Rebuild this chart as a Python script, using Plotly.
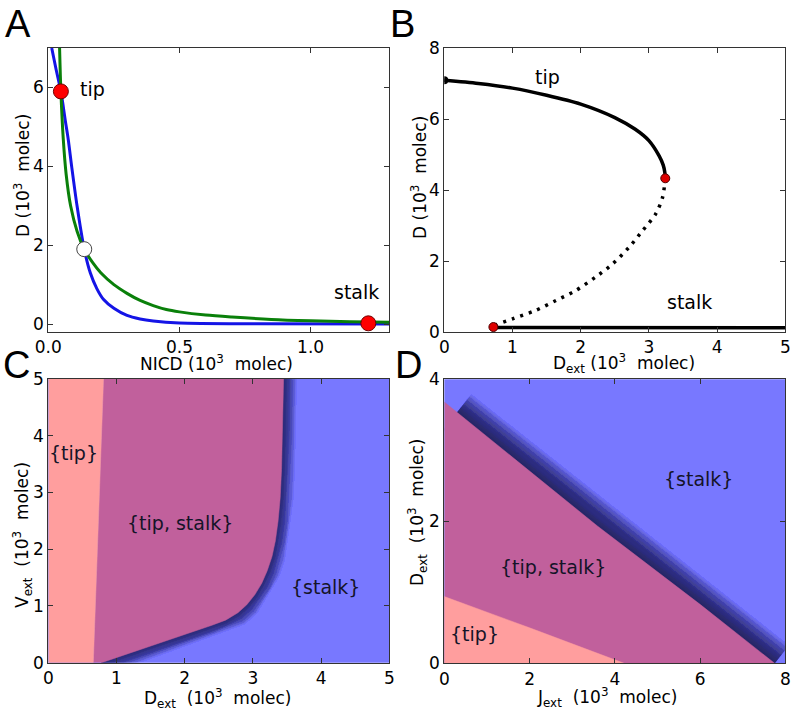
import plotly.graph_objects as go

W, H = 796, 711
FONT = "DejaVu Sans"

# ---------------- Panel A: nullclines ----------------
a_green_nicd = [0.043, 0.048, 0.057, 0.068, 0.085, 0.11, 0.137, 0.17, 0.20, 0.25, 0.30, 0.35, 0.40, 0.45, 0.50, 0.60, 0.70, 0.85, 1.00, 1.15, 1.30]
a_green_d    = [7.0,   5.9,   4.7,   3.8,   3.0,   2.35, 1.9,   1.55, 1.3,  1.0,  0.78, 0.6,  0.47, 0.37, 0.31, 0.23, 0.18, 0.12, 0.085, 0.06, 0.045]
a_blue_nicd  = [0.013, 0.03, 0.048, 0.065, 0.076, 0.089, 0.11, 0.137, 0.16, 0.185, 0.21, 0.25, 0.30, 0.35, 0.40, 0.50, 0.80, 1.30]
a_blue_d     = [7.0,   6.45, 5.9,   5.15,  4.68,  4.0,   2.98, 1.9,   1.3,  0.9,   0.63, 0.4,  0.22, 0.13, 0.08, 0.03, 0.01, 0.005]
a_stable_nicd = [0.048, 1.22]
a_stable_d    = [5.9, 0.02]
a_saddle_nicd = [0.137]
a_saddle_d    = [1.9]
a_xrange = [0, 1.3]
a_yrange = [-0.2, 7.0]
a_xticks = [0.0, 0.5, 1.0]
a_xticklabels = ["0.0", "0.5", "1.0"]
a_yticks = [0, 2, 4, 6]

# ---------------- Panel B: bifurcation diagram ----------------
b_tip_dext = [0.0, 0.5, 1.0, 1.5, 2.0, 2.5, 2.8, 3.0, 3.15, 3.21, 3.233, 3.24]
b_tip_d    = [7.09, 7.0, 6.87, 6.67, 6.42, 6.04, 5.71, 5.39, 4.96, 4.70, 4.50, 4.33]
b_unst_dext = [3.24, 3.2, 3.1, 2.91, 2.71, 2.47, 2.22, 1.93, 1.64, 1.34, 1.0, 0.76, 0.72]
b_unst_d    = [4.33, 3.79, 3.33, 2.86, 2.39, 1.92, 1.55, 1.17, 0.89, 0.61, 0.37, 0.2, 0.14]
b_stalk_dext = [0.72, 2.0, 5.0]
b_stalk_d    = [0.13, 0.12, 0.12]
b_fold_dext = [3.24, 0.72]
b_fold_d    = [4.33, 0.14]
b_start_dext = [0.0]
b_start_d    = [7.09]
b_xrange = [0, 5]
b_yrange = [0, 8]
b_xticks = [0, 1, 2, 3, 4, 5]
b_yticks = [0, 2, 4, 6, 8]

# ---------------- Panel C: phase diagram Dext vs Vext ----------------
c_tipb_dext = [0.66, 0.81]
c_tipb_vext = [0.0, 5.0]
c_stalkb_dext = [0.78, 1.0, 1.5, 2.0, 2.4, 2.6, 2.78, 2.91, 3.03, 3.13, 3.21, 3.28, 3.33, 3.37, 3.40, 3.42, 3.435, 3.45]
c_stalkb_vext = [0.0, 0.1, 0.3, 0.5, 0.66, 0.75, 0.88, 1.02, 1.2, 1.4, 1.62, 1.87, 2.15, 2.5, 2.9, 3.4, 4.0, 5.0]
c_xrange = [0, 5]
c_yrange = [0, 5]
c_ticks = [0, 1, 2, 3, 4, 5]
c_labels = ["{tip}", "{tip, stalk}", "{stalk}"]
c_label_x = [0.37, 1.93, 4.07]
c_label_y = [3.7, 2.46, 1.33]

# ---------------- Panel D: phase diagram Jext vs Dext ----------------
d_tipb_jext = [0.0, 2.0, 4.22]
d_tipb_dext = [0.94, 0.5, 0.0]
d_stalkb_jext = [0.0, 1.5, 3.6, 6.0, 7.75]
d_stalkb_dext = [3.68, 2.95, 1.93, 0.83, 0.0]
d_shadow_from_jext = 0.3   # the dark edge starts a little right of the axis
d_xrange = [0, 8]
d_yrange = [0, 4]
d_xticks = [0, 2, 4, 6, 8]
d_yticks = [0, 2, 4]
d_labels = ["{stalk}", "{tip, stalk}", "{tip}"]
d_label_x = [5.96, 2.55, 0.72]
d_label_y = [2.59, 1.35, 0.41]

PINK = "#FF9E9E"
PURPLE = "#C1609C"
BLUE = "#7878FF"
SHADOW = "rgb(22,22,70)"

fig = go.Figure()

# ---- A
fig.add_trace(go.Scatter(x=a_blue_nicd, y=a_blue_d, mode="lines", line=dict(color="#1414E6", width=3, shape="spline", smoothing=0.8), xaxis="x", yaxis="y"))
fig.add_trace(go.Scatter(x=a_green_nicd, y=a_green_d, mode="lines", line=dict(color="#0A800A", width=3, shape="spline", smoothing=0.8), xaxis="x", yaxis="y"))
fig.add_trace(go.Scatter(x=a_stable_nicd, y=a_stable_d, mode="markers", marker=dict(color="#FF0000", size=15, line=dict(color="#700000", width=1)), cliponaxis=False, xaxis="x", yaxis="y"))
fig.add_trace(go.Scatter(x=a_saddle_nicd, y=a_saddle_d, mode="markers", marker=dict(color="#FFFFFF", size=15, line=dict(color="#444444", width=1)), xaxis="x", yaxis="y"))

# ---- B
fig.add_trace(go.Scatter(x=b_tip_dext, y=b_tip_d, mode="lines", line=dict(color="black", width=3.5, shape="spline", smoothing=0.8), xaxis="x2", yaxis="y2"))
fig.add_trace(go.Scatter(x=b_unst_dext, y=b_unst_d, mode="lines", line=dict(color="black", width=3.5, shape="spline", smoothing=0.8, dash="3px,6px"), xaxis="x2", yaxis="y2"))
fig.add_trace(go.Scatter(x=b_stalk_dext, y=b_stalk_d, mode="lines", line=dict(color="black", width=3.5), xaxis="x2", yaxis="y2"))
fig.add_trace(go.Scatter(x=b_start_dext, y=b_start_d, mode="markers", marker=dict(color="black", size=8), xaxis="x2", yaxis="y2"))
fig.add_trace(go.Scatter(x=b_fold_dext, y=b_fold_d, mode="markers", marker=dict(color="#DD0000", size=9, line=dict(color="#500000", width=1)), xaxis="x2", yaxis="y2"))


def add_shadow(xs, ys, xa, ya, wmax, n, alpha):
    for i in range(n):
        w = wmax * (n - i) / n
        fig.add_trace(go.Scatter(x=xs, y=ys, mode="lines", line=dict(color=SHADOW, width=w),
                                 opacity=alpha, xaxis=xa, yaxis=ya))


# ---- C
add_shadow(c_stalkb_dext, c_stalkb_vext, "x3", "y3", 26, 22, 0.055)
fig.add_trace(go.Scatter(x=c_tipb_dext + c_stalkb_dext[::-1], y=c_tipb_vext + c_stalkb_vext[::-1], mode="lines", fill="toself", fillcolor=PURPLE, line=dict(color=PURPLE, width=0.5), xaxis="x3", yaxis="y3"))
fig.add_trace(go.Scatter(x=[c_xrange[0]] + c_tipb_dext + [c_xrange[0]], y=[c_yrange[0]] + c_tipb_vext + [c_yrange[1]], mode="lines", fill="toself", fillcolor=PINK, line=dict(color=PINK, width=0.5), xaxis="x3", yaxis="y3"))

# ---- D
_j0, _j1 = d_stalkb_jext[0], d_stalkb_jext[1]
_d0, _d1 = d_stalkb_dext[0], d_stalkb_dext[1]
_ds = _d0 + (_d1 - _d0) * (d_shadow_from_jext - _j0) / (_j1 - _j0)
d_sh_j = [d_shadow_from_jext] + d_stalkb_jext[1:]
d_sh_d = [_ds] + d_stalkb_dext[1:]
add_shadow(d_sh_j, d_sh_d, "x4", "y4", 46, 30, 0.046)
fig.add_trace(go.Scatter(x=d_stalkb_jext + [d_xrange[0]], y=d_stalkb_dext + [d_yrange[0]], mode="lines", fill="toself", fillcolor=PURPLE, line=dict(color=PURPLE, width=0.5), xaxis="x4", yaxis="y4"))
fig.add_trace(go.Scatter(x=[d_xrange[0]] + d_tipb_jext, y=[d_yrange[0]] + d_tipb_dext, mode="lines", fill="toself", fillcolor=PINK, line=dict(color=PINK, width=0.5), xaxis="x4", yaxis="y4"))


def fx(px):
    return px / W


def fy(py):
    return 1 - py / H


dom = {
    "A": ([fx(48.3), fx(389.3)], [fy(332), fy(48)]),
    "B": ([fx(444.3), fx(785.3)], [fy(332), fy(48)]),
    "C": ([fx(48.3), fx(389.3)], [fy(662.7), fy(379)]),
    "D": ([fx(444.3), fx(785.3)], [fy(663.3), fy(379.3)]),
}

axstyle = dict(showline=True, linecolor="#333333", linewidth=1, mirror="allticks",
               ticks="inside", ticklen=5, tickcolor="#333333", tickwidth=1, automargin=False,
               showgrid=False, zeroline=False, tickfont=dict(size=17, family=FONT, color="black"))

fig.update_layout(
    template="none",
    width=W, height=H, autosize=False,
    margin=dict(l=0, r=0, t=0, b=0, pad=0),
    paper_bgcolor="white", plot_bgcolor="white",
    showlegend=False,
    font=dict(family=FONT, color="black", size=17),
    xaxis=dict(domain=dom["A"][0], anchor="y", range=a_xrange, tickvals=a_xticks, ticktext=a_xticklabels, **axstyle),
    yaxis=dict(domain=dom["A"][1], anchor="x", range=a_yrange, tickvals=a_yticks, **axstyle),
    xaxis2=dict(domain=dom["B"][0], anchor="y2", range=b_xrange, tickvals=b_xticks, **axstyle),
    yaxis2=dict(domain=dom["B"][1], anchor="x2", range=b_yrange, tickvals=b_yticks, **axstyle),
    xaxis3=dict(domain=dom["C"][0], anchor="y3", range=c_xrange, tickvals=c_ticks, **axstyle),
    yaxis3=dict(domain=dom["C"][1], anchor="x3", range=c_yrange, tickvals=c_ticks, **axstyle),
    xaxis4=dict(domain=dom["D"][0], anchor="y4", range=d_xrange, tickvals=d_xticks, **axstyle),
    yaxis4=dict(domain=dom["D"][1], anchor="x4", range=d_yrange, tickvals=d_yticks, **axstyle),
)

fig.add_shape(type="rect", xref="x3 domain", yref="y3 domain", x0=0, x1=1, y0=0, y1=1,
              fillcolor=BLUE, line=dict(width=0), layer="below")
fig.add_shape(type="rect", xref="x4 domain", yref="y4 domain", x0=0, x1=1, y0=0, y1=1,
              fillcolor=BLUE, line=dict(width=0), layer="below")

ann = []
# panel letters
for txt, px, py in [("A", 18, 24), ("B", 402, 24), ("C", 16, 365), ("D", 408, 365)]:
    ann.append(dict(text=txt, x=fx(px), y=fy(py), xref="paper", yref="paper", showarrow=False,
                    xanchor="center", yanchor="middle", font=dict(size=38, family="Liberation Sans", color="black")))

# axis titles
unit = "(10<sup>3</sup>&nbsp; molec)"
xt = [("NICD " + unit, 216, 363), ("D<sub>ext</sub> " + unit, 624, 363),
      ("D<sub>ext</sub>&nbsp; " + unit, 218, 698), ("J<sub>ext</sub>&nbsp; " + unit, 607, 697)]
for txt, px, py in xt:
    ann.append(dict(text=txt, x=fx(px), y=fy(py), xref="paper", yref="paper", showarrow=False,
                    xanchor="center", yanchor="middle", font=dict(size=17)))
yt = [("D " + unit, 22, 176), ("D " + unit, 419, 178),
      ("V<sub>ext</sub>&nbsp; " + unit, 22, 535), ("D<sub>ext</sub>&nbsp; " + unit, 417, 512)]
for txt, px, py in yt:
    ann.append(dict(text=txt, x=fx(px), y=fy(py), xref="paper", yref="paper", showarrow=False,
                    textangle=-90, xanchor="center", yanchor="middle", font=dict(size=17)))

# in-plot labels
ann.append(dict(text="tip", x=0.168, y=5.97, xref="x", yref="y", showarrow=False, font=dict(size=19)))
ann.append(dict(text="stalk", x=1.175, y=0.82, xref="x", yref="y", showarrow=False, font=dict(size=19)))
ann.append(dict(text="tip", x=1.51, y=7.17, xref="x2", yref="y2", showarrow=False, font=dict(size=19)))
ann.append(dict(text="stalk", x=3.59, y=0.85, xref="x2", yref="y2", showarrow=False, font=dict(size=19)))
for t, x, y in zip(c_labels, c_label_x, c_label_y):
    ann.append(dict(text=t, x=x, y=y, xref="x3", yref="y3", showarrow=False, font=dict(size=19, color="#141428")))
for t, x, y in zip(d_labels, d_label_x, d_label_y):
    ann.append(dict(text=t, x=x, y=y, xref="x4", yref="y4", showarrow=False, font=dict(size=19, color="#141428")))

fig.update_layout(annotations=ann)
fig.write_html("out.html", config={"displayModeBar": False},
               post_script="document.body.style.margin='0';document.body.style.padding='0';")
